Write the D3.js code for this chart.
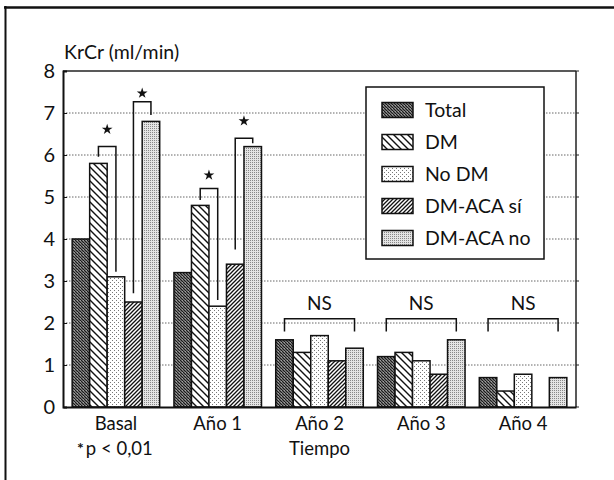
<!DOCTYPE html>
<html><head><meta charset="utf-8">
<script src="https://cdn.jsdelivr.net/npm/d3@7"></script>
<style>
html,body{margin:0;padding:0;background:#fff;}
svg{display:block;font-family:Lato,"Open Sans",sans-serif;}
</style></head>
<body>
<svg id="chart" width="614" height="480"></svg>
<script>
// ---- data ----
const groups = ["Basal", "Año 1", "Año 2", "Año 3", "Año 4"];
const series = ["Total", "DM", "No DM", "DM-ACA sí", "DM-ACA no"];
const total    = [4.0, 3.2, 1.6, 1.2, 0.7];
const dm       = [5.8, 4.8, 1.3, 1.3, 0.38];
const noDm     = [3.1, 2.4, 1.7, 1.1, 0.78];
const acaSi    = [2.5, 3.4, 1.1, 0.78, null];
const acaNo    = [6.8, 6.2, 1.4, 1.6, 0.7];
const yTicks = [0, 1, 2, 3, 4, 5, 6, 7, 8];
const yLabel = "KrCr (ml/min)";
const xTitle = "Tiempo";
const footnote = "p < 0,01";
// significance brackets (values in y units)
const sigGroups = ["Basal", "Basal", "Año 1", "Año 1"];
const sigFrom   = ["DM", "DM-ACA sí", "DM", "DM-ACA sí"];
const sigTo     = ["No DM", "DM-ACA no", "No DM", "DM-ACA no"];
const sigLevel  = [6.2, 7.27, 5.2, 6.4];
const sigLeftEnd  = [5.96, 2.71, 4.93, 3.75];
const sigRightEnd = [3.22, 6.95, 2.55, 6.28];
const sigStar   = [6.61, 7.47, 5.52, 6.81];
const nsGroups = ["Año 2", "Año 3", "Año 4"];
const nsLevel = 2.1, nsEnd = 1.8, nsText = "NS";

const valuesBySeries = [total, dm, noDm, acaSi, acaNo];
const rows = [];
groups.forEach((g, gi) => series.forEach((s, si) => {
  const v = valuesBySeries[si][gi];
  if (v != null) rows.push({group: g, series: s, value: v});
}));

// ---- layout ----
const svg = d3.select("#chart");
const L = 63, R = 576, T = 71, B = 407;
const x0 = d3.scaleBand().domain(groups).range([L, R]).paddingInner(0.14).paddingOuter(0.09);
const x1 = d3.scaleBand().domain(series).range([0, x0.bandwidth()]);
const y = d3.scaleLinear().domain([0, 8]).range([B, T]);
const cx = (g, s) => x0(g) + x1(s) + x1.bandwidth() / 2;

// ---- patterns ----
const defs = svg.append("defs");
function pat(id, w, h, build) {
  const p = defs.append("pattern").attr("id", id).attr("patternUnits", "userSpaceOnUse")
    .attr("width", w).attr("height", h);
  build(p);
}
pat("pTotal", 3, 3, p => {
  p.append("rect").attr("width", 3).attr("height", 3).attr("fill", "#6e6e6e");
  p.append("rect").attr("width", 1).attr("height", 1).attr("fill", "#1a1a1a");
  p.append("rect").attr("x", 1).attr("y", 1).attr("width", 1).attr("height", 1).attr("fill", "#1a1a1a");
  p.append("rect").attr("x", 2).attr("y", 2).attr("width", 1).attr("height", 1).attr("fill", "#1a1a1a");
  p.append("rect").attr("x", 2).attr("y", 0).attr("width", 1).attr("height", 1).attr("fill", "#a0a0a0");
});
pat("pDM", 7, 7, p => {
  p.append("rect").attr("width", 7).attr("height", 7).attr("fill", "#fff");
  p.append("path").attr("d", "M-1,-1 L8,8 M-8,0 L1,8 M6,-1 L15,8 M-1,6 L1,8 M6,-1 L8,1").attr("stroke", "#111").attr("stroke-width", 1.4);
});
pat("pNoDM", 4, 4, p => {
  p.append("rect").attr("width", 4).attr("height", 4).attr("fill", "#fff");
  p.append("rect").attr("x", 0).attr("y", 0).attr("width", 1).attr("height", 1).attr("fill", "#777");
  p.append("rect").attr("x", 2).attr("y", 2).attr("width", 1).attr("height", 1).attr("fill", "#777");
});
pat("pSi", 4, 4, p => {
  p.append("rect").attr("width", 4).attr("height", 4).attr("fill", "#fff");
  p.append("path").attr("d", "M-1,5 L5,-1 M-1,1 L1,-1 M3,5 L5,3").attr("stroke", "#111").attr("stroke-width", 1.3);
});
pat("pNo", 2, 2, p => {
  p.append("rect").attr("width", 2).attr("height", 2).attr("fill", "#e4e4e4");
  p.append("rect").attr("width", 1).attr("height", 1).attr("fill", "#888");
});
const fills = d3.scaleOrdinal().domain(series).range(["url(#pTotal)", "url(#pDM)", "url(#pNoDM)", "url(#pSi)", "url(#pNo)"]);

// ---- outer frame ----
svg.append("line").attr("x1", 4).attr("x2", 614).attr("y1", 7.5).attr("y2", 7.5).attr("stroke", "#111").attr("stroke-width", 2.5);
svg.append("line").attr("x1", 5.5).attr("x2", 5.5).attr("y1", 6).attr("y2", 480).attr("stroke", "#111").attr("stroke-width", 2);

// ---- grid ----
svg.append("g").selectAll("line").data(yTicks.filter(t => t > 0 && t < 8)).join("line")
  .attr("x1", L).attr("x2", R).attr("y1", d => y(d)).attr("y2", d => y(d))
  .attr("stroke", "#666").attr("stroke-width", 1).attr("stroke-dasharray", "1.5,1.5");

// ---- plot frame (top/right) ----
svg.append("line").attr("x1", L).attr("x2", R).attr("y1", T).attr("y2", T).attr("stroke", "#222").attr("stroke-width", 1.5);
svg.append("line").attr("x1", R).attr("x2", R).attr("y1", T).attr("y2", B).attr("stroke", "#222").attr("stroke-width", 1.5);
svg.append("g").selectAll("line").data(yTicks).join("line")
  .attr("x1", R).attr("x2", R + 3).attr("y1", d => y(d)).attr("y2", d => y(d)).attr("stroke", "#222");

// ---- bars ----
svg.append("g").selectAll("rect").data(rows).join("rect")
  .attr("x", d => x0(d.group) + x1(d.series))
  .attr("y", d => y(d.value))
  .attr("width", x1.bandwidth())
  .attr("height", d => y(0) - y(d.value))
  .attr("fill", d => fills(d.series))
  .attr("stroke", "#111").attr("stroke-width", 1.5);

// ---- axes ----
const yAxis = d3.axisLeft(y).tickValues(yTicks).tickSize(-4).tickPadding(8).tickFormat(d3.format("d"));
const gy = svg.append("g").attr("transform", `translate(${L},0)`).call(yAxis);
gy.select(".domain").attr("stroke", "#111").attr("stroke-width", 2);
gy.selectAll(".tick line").attr("stroke", "#111");
gy.selectAll(".tick text").attr("font-size", 20).attr("fill", "#111").attr("font-family", "Lato");

const xAxis = d3.axisBottom(x0).tickSize(0).tickPadding(10);
const gx = svg.append("g").attr("transform", `translate(0,${B})`).call(xAxis);
gx.select(".domain").attr("stroke", "#111").attr("stroke-width", 2);
gx.selectAll(".tick text").attr("font-size", 18.5).attr("fill", "#111").attr("font-family", "Lato");

// y label
svg.append("text").attr("x", L + 1).attr("y", 59).attr("font-size", 19.5).attr("fill", "#111").text(yLabel);
// x title and footnote
svg.append("text").attr("x", x0("Año 2") + x0.bandwidth() / 2).attr("y", 455).attr("text-anchor", "middle")
  .attr("font-size", 18.5).attr("fill", "#111").text(xTitle);
const fn = svg.append("text").attr("x", x0("Basal") + x0.bandwidth() / 2 - 1).attr("y", 455).attr("text-anchor", "middle")
  .attr("font-size", 18.5).attr("fill", "#111");
fn.append("tspan").attr("font-size", 16).attr("font-weight", "bold").attr("dy", -1).text("*");
fn.append("tspan").attr("dy", 1).attr("dx", 2).text(footnote);

// ---- significance brackets ----
const sig = svg.append("g").attr("fill", "none").attr("stroke", "#111").attr("stroke-width", 1.5);
sigGroups.forEach((g, i) => {
  const xa = cx(g, sigFrom[i]), xb = cx(g, sigTo[i]);
  sig.append("path").attr("d", `M${xa},${y(sigLeftEnd[i])} V${y(sigLevel[i])} H${xb} V${y(sigRightEnd[i])}`);
  svg.append("path").attr("d", d3.symbol(d3.symbolStar, 36)())
    .attr("transform", `translate(${(xa + xb) / 2},${y(sigStar[i])})`).attr("fill", "#111");
});
nsGroups.forEach(g => {
  const xa = cx(g, series[0]), xb = cx(g, series[series.length - 1]);
  sig.append("path").attr("d", `M${xa},${y(nsEnd)} V${y(nsLevel)} H${xb} V${y(nsEnd)}`);
  svg.append("text").attr("x", (xa + xb) / 2).attr("y", y(nsLevel) - 9).attr("text-anchor", "middle")
    .attr("font-size", 19).attr("fill", "#111").text(nsText);
});

// ---- legend ----
const lg = svg.append("g");
lg.append("rect").attr("x", 366).attr("y", 87).attr("width", 178).attr("height", 172)
  .attr("fill", "#fff").attr("stroke", "#111").attr("stroke-width", 1.5);
const lgY = d3.scalePoint().domain(series).range([110, 238]);
series.forEach(s => {
  lg.append("rect").attr("x", 382).attr("y", lgY(s) - 7.5).attr("width", 31).attr("height", 15)
    .attr("fill", fills(s)).attr("stroke", "#111").attr("stroke-width", 1.5);
  lg.append("text").attr("x", 425).attr("y", lgY(s)).attr("dy", "0.36em").attr("font-size", 19.5)
    .attr("fill", "#111").text(s);
});
</script>
</body></html>
